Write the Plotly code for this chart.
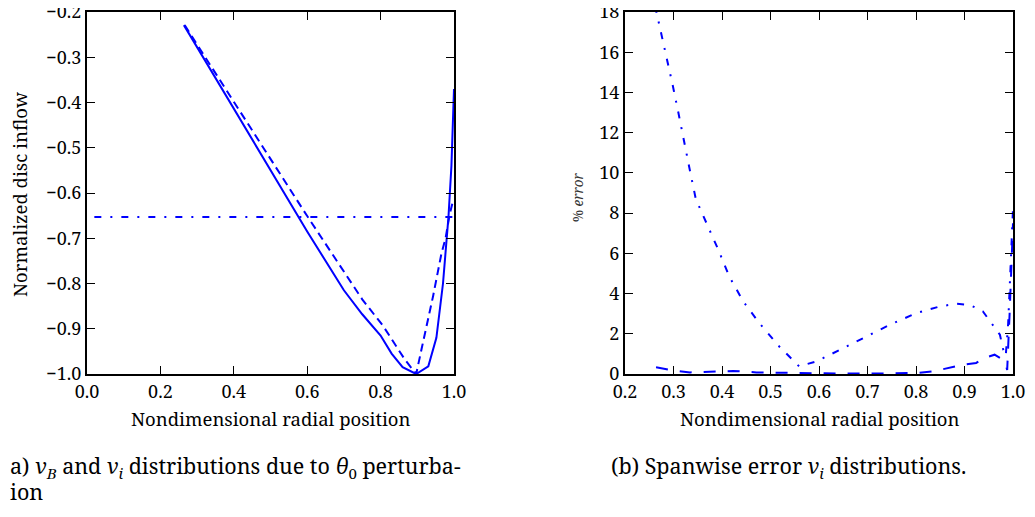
import plotly.graph_objects as go

# ---------------- data ----------------
# left panel: normalized disc inflow
r_solid = [0.264, 0.30, 0.40, 0.50, 0.60, 0.70, 0.75, 0.80, 0.83, 0.86, 0.897,
           0.93, 0.952, 0.97, 0.977, 0.985, 0.993, 1.0]
v_solid = [-0.229, -0.278, -0.414, -0.550, -0.685, -0.815, -0.868, -0.915, -0.955,
           -0.985, -1.0, -0.983, -0.92, -0.80, -0.726, -0.652, -0.54, -0.37]

r_dash = [0.266, 0.40, 0.60, 0.75, 0.807, 0.866, 0.897, 0.911, 0.943, 0.966,
          0.977, 0.988, 0.998]
v_dash = [-0.229, -0.398, -0.651, -0.835, -0.894, -0.968, -1.0, -0.947, -0.828,
          -0.733, -0.70, -0.648, -0.615]

r_uniform = [0.02, 1.0]
v_uniform = [-0.653, -0.653]

# right panel: spanwise % error
r_err1 = [0.262, 0.273, 0.286, 0.298, 0.310, 0.322, 0.334, 0.346, 0.368, 0.392,
          0.415, 0.444, 0.478, 0.518, 0.559, 0.595, 0.643, 0.691, 0.746, 0.801,
          0.849, 0.883, 0.911, 0.938, 0.959, 0.973, 0.980, 0.985, 0.990, 0.995, 1.0]
e_err1 = [18.3, 17.1, 15.8, 14.4, 13.0, 11.5, 10.1, 8.7, 7.5, 6.2,
          4.85, 3.6, 2.5, 1.37, 0.38, 0.63, 1.2, 1.79, 2.45, 3.03,
          3.36, 3.49, 3.44, 3.11, 2.45, 1.95, 1.2, 0.9, 2.5, 5.5, 8.2]

r_err2 = [0.264, 0.30, 0.334, 0.37, 0.423, 0.471, 0.54, 0.643, 0.746, 0.80,
          0.835, 0.869, 0.897, 0.924, 0.941, 0.962, 0.979, 0.986, 0.988, 0.993,
          0.997, 1.0]
e_err2 = [0.33, 0.18, 0.08, 0.10, 0.15, 0.08, 0.05, 0.02, 0.03, 0.05,
          0.13, 0.30, 0.46, 0.55, 0.79, 0.96, 0.71, 0.38, 0.20, 3.0,
          5.5, 7.5]

left_xticks = [0.0, 0.2, 0.4, 0.6, 0.8, 1.0]
left_yticks = [-1.0, -0.9, -0.8, -0.7, -0.6, -0.5, -0.4, -0.3, -0.2]
right_xticks = [0.2, 0.3, 0.4, 0.5, 0.6, 0.7, 0.8, 0.9, 1.0]
right_yticks = [0, 2, 4, 6, 8, 10, 12, 14, 16, 18]

# ---------------- styling ----------------
OFF = 8                      # page body margin in the browser
W, H = 1035 - OFF, 517 - OFF
BLUE = "#0000ff"
FONT = "Noto Serif, Liberation Serif, serif"
DASH = "8px,5px"
DASHDOT = "7px,9px,2px,9px"
LONGDASH = "12px,12px"


def px(x):
    return (x - OFF) / W


def py(y):
    return 1 - (y - OFF) / H


fig = go.Figure()

fig.add_trace(go.Scatter(x=r_solid, y=v_solid, mode="lines", xaxis="x", yaxis="y",
                         line=dict(color=BLUE, width=2)))
fig.add_trace(go.Scatter(x=r_dash, y=v_dash, mode="lines", xaxis="x", yaxis="y",
                         line=dict(color=BLUE, width=2, dash=DASH)))
fig.add_trace(go.Scatter(x=r_uniform, y=v_uniform, mode="lines", xaxis="x", yaxis="y",
                         line=dict(color=BLUE, width=2, dash=DASHDOT)))

fig.add_trace(go.Scatter(x=r_err1, y=e_err1, mode="lines", xaxis="x2", yaxis="y2",
                         line=dict(color=BLUE, width=2, dash=DASHDOT)))
fig.add_trace(go.Scatter(x=r_err2, y=e_err2, mode="lines", xaxis="x2", yaxis="y2",
                         line=dict(color=BLUE, width=2, dash=LONGDASH)))

axis_common = dict(showline=True, linecolor="black", linewidth=2, mirror="ticks",
                   ticks="inside", ticklen=8, tickwidth=1, tickcolor="black",
                   showgrid=False, zeroline=False, automargin=False,
                   ticklabeloverflow="allow",
                   tickfont=dict(family=FONT, size=18, color="black"))

fig.update_layout(
    width=W, height=H,
    margin=dict(l=0, r=0, t=0, b=0),
    paper_bgcolor="white", plot_bgcolor="white",
    showlegend=False,
    font=dict(family=FONT),
    xaxis=dict(domain=[px(87), px(454)], range=[0, 1], tickvals=left_xticks,
               tickformat=".1f", anchor="y", **axis_common),
    yaxis=dict(domain=[py(374), py(12)], range=[-1.0, -0.2], tickvals=left_yticks,
               tickformat=".1f", anchor="x", **axis_common),
    xaxis2=dict(domain=[px(625), px(1013)], range=[0.2, 1.0], tickvals=right_xticks,
                tickformat=".1f", anchor="y2", **axis_common),
    yaxis2=dict(domain=[py(374), py(12)], range=[0, 18], tickvals=right_yticks,
                anchor="x2", **axis_common),
)


def label(text, x, y, size, angle=0, color="black", xanchor="center"):
    return dict(text=text, x=px(x), y=py(y), textangle=angle,
                xref="paper", yref="paper", showarrow=False,
                xanchor=xanchor, yanchor="middle",
                font=dict(family=FONT, size=size, color=color))


ann = [
    label("Nondimensional radial position", 271, 418, 18.5),
    label("Nondimensional radial position", 820, 418, 18.5),
    label("Normalized disc inflow", 20, 195, 18.5, angle=-90),
    label("% <i>error</i>", 578, 198, 13.5, angle=-90, color="#333333"),
    label("a) <i>v</i><sub><i>B</i></sub> and <i>v</i><sub><i>i</i></sub> "
          "distributions due to <i>θ</i><sub>0</sub> perturba-",
          OFF, 467, 21.5, xanchor="left"),
    label("ion", OFF, 491, 21.5, xanchor="left"),
    label("(b) Spanwise error <i>v</i><sub><i>i</i></sub> distributions.",
          609, 467, 21.5, xanchor="left"),
]
fig.update_layout(annotations=ann)

fig.write_html("out.html")
